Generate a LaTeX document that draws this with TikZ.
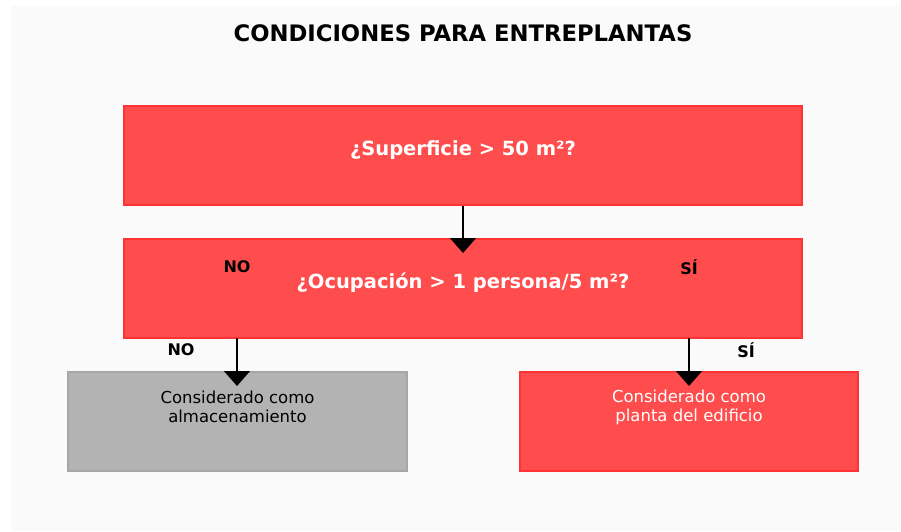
\documentclass[tikz,border=0pt]{standalone}
\usepackage{fontspec}
\setmainfont{DejaVu Sans}
\usetikzlibrary{arrows.meta}
\definecolor{bgc}{HTML}{FAFAFA}
\definecolor{redfill}{HTML}{FF4C4C}
\definecolor{redline}{HTML}{FF3333}
\definecolor{grayfill}{HTML}{B3B3B3}
\definecolor{grayline}{HTML}{A6A6A6}
\tikzset{
  redbox/.style={draw=redline, fill=redfill, line width=1.5pt, inner sep=0pt},
  graybox/.style={draw=grayline, fill=grayfill, line width=1.2pt, inner sep=0pt},
  boldtxt/.style={font=\fontsize{19.5}{23}\selectfont\bfseries, text=white, inner sep=0pt},
  lbl/.style={font=\fontsize{16}{19}\selectfont\bfseries, inner sep=0pt},
  plain/.style={font=\fontsize{16.5}{19}\selectfont, align=center, inner sep=0pt},
  flow/.style={line width=1.5pt, -{Triangle[width=26pt,length=15pt]}},
}
\begin{document}
\begin{tikzpicture}[x=1pt,y=-1pt]
\useasboundingbox (0,0) rectangle (901,531);
\fill[white] (0,0) rectangle (901,531);
\fill[bgc] (11,6) rectangle (900,531);
\node[font=\fontsize{22.7}{26}\selectfont\bfseries, inner sep=0pt] (title) at (463,33) {CONDICIONES PARA ENTREPLANTAS};
\node[redbox, minimum width=678pt, minimum height=99pt] (q1) at (463,155.5) {};
\node[redbox, minimum width=678pt, minimum height=99pt] (q2) at (463,288.5) {};
\node[graybox, minimum width=339pt, minimum height=99pt] (r1) at (237.5,421.5) {};
\node[redbox, minimum width=338pt, minimum height=99pt] (r2) at (689,421.5) {};
\node[boldtxt] (t1) at (463,150) {¿Superficie > 50 m²?};
\node[boldtxt] (t2) at (463,283) {¿Ocupación > 1 persona/5 m²?};
\node[plain] (t3) at (237.5,407) {Considerado como\\almacenamiento};
\node[plain, text=white] (t4) at (689,407) {Considerado como\\planta del edificio};
\coordinate (e1) at (463,253);
\coordinate (s2) at (237,338);
\coordinate (e2) at (237,386);
\coordinate (s3) at (689,338);
\coordinate (e3) at (689,386);
\draw[flow] (q1.south) -- (e1);
\draw[flow] (s2) -- (e2);
\draw[flow] (s3) -- (e3);
\node[lbl] (l1) at (237,267) {NO};
\node[lbl] (l2) at (689,267) {SÍ};
\node[lbl] (l3) at (181,350) {NO};
\node[lbl] (l4) at (746,350) {SÍ};
\end{tikzpicture}
\end{document}
